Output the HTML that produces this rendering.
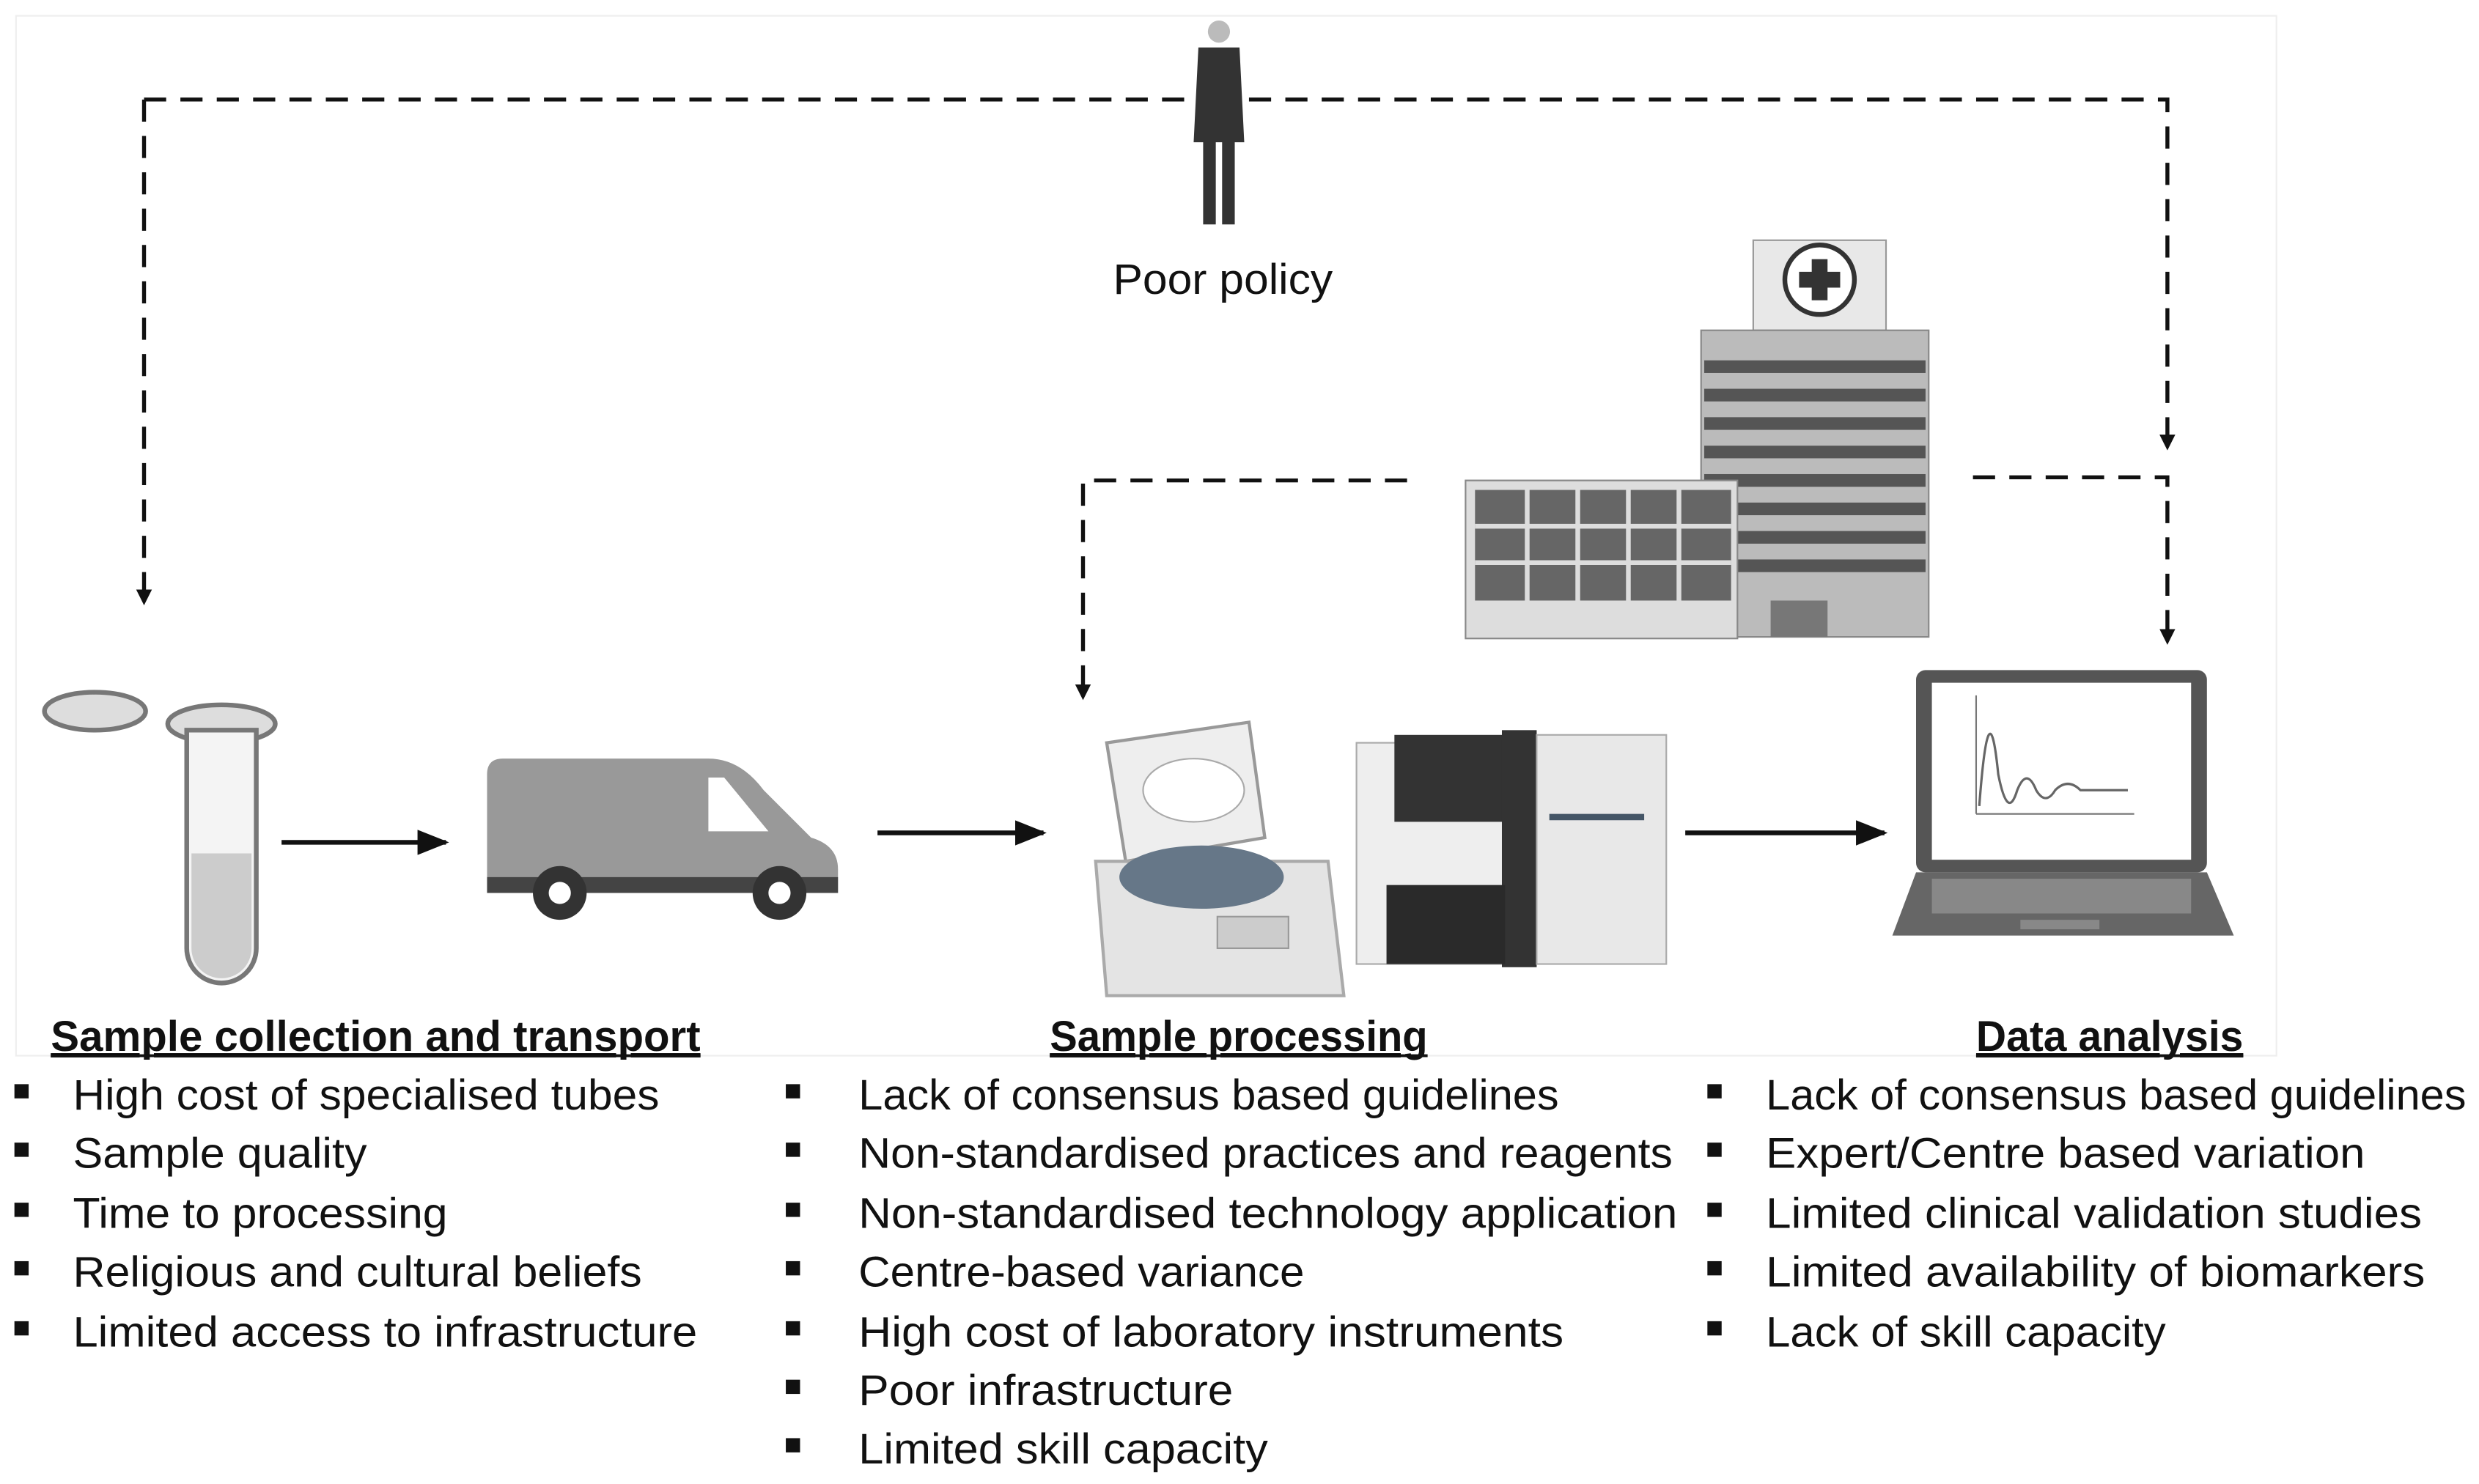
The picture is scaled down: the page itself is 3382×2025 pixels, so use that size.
<!DOCTYPE html>
<html><head><meta charset="utf-8"><style>
html,body{margin:0;padding:0;background:#fff;}
svg{display:block;}
text{font-family:"Liberation Sans",sans-serif;fill:#111;}
</style></head><body>
<svg width="3382" height="2025" viewBox="0 0 1568 939" xmlns="http://www.w3.org/2000/svg">
<defs>
<marker id="ah" markerWidth="10" markerHeight="10" refX="5" refY="5" orient="auto" markerUnits="userSpaceOnUse" viewBox="0 0 10 10"><path d="M0,0 L10,5 L0,10 z" fill="#111"/></marker>
<marker id="as" markerWidth="20" markerHeight="16" refX="18" refY="8" orient="auto" markerUnits="userSpaceOnUse"><path d="M0,0 L20,8 L0,16 z" fill="#111"/></marker>
</defs>
<rect x="10" y="10" width="1430" height="658" fill="none" stroke="#eee" stroke-width="1"/>
<g stroke="#111" stroke-width="2.5" fill="none" stroke-dasharray="14,9">
<path d="M91,63 H750"/><path d="M790,63 H1371 V280" marker-end="url(#ah)"/>
<path d="M91,63 V378" marker-end="url(#ah)"/>
<path d="M890,304 H685 V438" marker-end="url(#ah)"/>
<path d="M1248,302 H1371 V403" marker-end="url(#ah)"/>
</g>
<g stroke="#111" stroke-width="3">
<line x1="178" y1="533" x2="282" y2="533" marker-end="url(#as)"/>
<line x1="555" y1="527" x2="660" y2="527" marker-end="url(#as)"/>
<line x1="1066" y1="527" x2="1192" y2="527" marker-end="url(#as)"/>
</g>
<!-- person -->
<g fill="#333"><circle cx="771" cy="20" r="7" fill="#bbb"/><path d="M758,30 h26 l3,60 h-6 v52 h-8 v-52 h-4 v52 h-8 v-52 h-6 z"/></g>
<text x="704" y="186" font-size="27" textLength="139" lengthAdjust="spacingAndGlyphs">Poor policy</text>
<!-- hospital -->
<g>
<rect x="1109" y="152" width="84" height="57" fill="#e8e8e8" stroke="#999"/>
<circle cx="1151" cy="177" r="22" fill="#fff" stroke="#333" stroke-width="3"/>
<path d="M1146,164 h10 v8 h8 v10 h-8 v8 h-10 v-8 h-8 v-10 h8 z" fill="#333"/>
<rect x="1076" y="209" width="144" height="194" fill="#bbb" stroke="#888"/>
<g fill="#555"><rect x="1078" y="228" width="140" height="8"/><rect x="1078" y="246" width="140" height="8"/><rect x="1078" y="264" width="140" height="8"/><rect x="1078" y="282" width="140" height="8"/><rect x="1078" y="300" width="140" height="8"/><rect x="1078" y="318" width="140" height="8"/><rect x="1078" y="336" width="140" height="8"/><rect x="1078" y="354" width="140" height="8"/></g>
<rect x="1120" y="380" width="36" height="23" fill="#777"/>
<rect x="927" y="304" width="172" height="100" fill="#ddd" stroke="#888"/>
<rect x="933" y="310" width="162" height="70" fill="#666"/>
<g stroke="#ddd" stroke-width="3"><line x1="966" y1="310" x2="966" y2="380"/><line x1="998" y1="310" x2="998" y2="380"/><line x1="1030" y1="310" x2="1030" y2="380"/><line x1="1062" y1="310" x2="1062" y2="380"/><line x1="933" y1="333" x2="1095" y2="333"/><line x1="933" y1="356" x2="1095" y2="356"/></g>
</g>
<!-- tube -->
<g fill="#ddd" stroke="#777" stroke-width="3">
<ellipse cx="60" cy="450" rx="32" ry="12"/><ellipse cx="140" cy="458" rx="34" ry="12"/>
<path d="M118,462 V600 a22,22 0 0 0 44,0 V462 z" fill="#f4f4f4"/>
<path d="M121,540 H159 V600 a19,19 0 0 1 -38,0 z" fill="#ccc" stroke="none"/>
</g>
<!-- van -->
<g>
<path d="M308,490 q0,-10 10,-10 h130 q20,0 35,20 l30,30 q17,5 17,20 v15 h-222 z" fill="#999"/>
<path d="M448,492 h10 l28,34 h-38 z" fill="#fff"/>
<rect x="308" y="555" width="222" height="10" fill="#444"/>
<circle cx="354" cy="565" r="17" fill="#333"/><circle cx="354" cy="565" r="7" fill="#fff"/>
<circle cx="493" cy="565" r="17" fill="#333"/><circle cx="493" cy="565" r="7" fill="#fff"/>
</g>
<!-- centrifuge -->
<g>
<path d="M700,470 L790,457 L800,530 L712,545 z" fill="#eee" stroke="#999" stroke-width="2"/>
<ellipse cx="755" cy="500" rx="32" ry="20" fill="#fff" stroke="#aaa"/>
<path d="M693,545 H840 L850,630 H700 z" fill="#e4e4e4" stroke="#aaa" stroke-width="2"/>
<ellipse cx="760" cy="555" rx="52" ry="20" fill="#678" />
<rect x="770" y="580" width="45" height="20" fill="#ccc" stroke="#999"/>
</g>
<!-- sequencer -->
<g>
<rect x="858" y="470" width="95" height="140" fill="#eee" stroke="#aaa"/>
<rect x="882" y="465" width="70" height="55" fill="#333"/>
<rect x="950" y="462" width="22" height="150" fill="#333"/>
<rect x="972" y="465" width="82" height="145" fill="#e8e8e8" stroke="#aaa"/>
<rect x="877" y="560" width="75" height="50" fill="#2a2a2a"/>
<rect x="980" y="515" width="60" height="4" fill="#456"/>
</g>
<!-- laptop -->
<g>
<rect x="1212" y="424" width="184" height="128" rx="6" fill="#555"/>
<rect x="1222" y="432" width="164" height="112" fill="#fff"/>
<path d="M1250,515 V440 M1250,515 H1350" stroke="#777" fill="none"/>
<path d="M1252,510 q6,-80 12,-20 q6,30 12,10 q6,-15 12,0 q6,10 12,0 q8,-8 16,0 h30" stroke="#666" fill="none" stroke-width="1.5"/>
<path d="M1212,552 H1396 L1413,592 H1197 z" fill="#666"/>
<rect x="1222" y="556" width="164" height="22" fill="#888"/>
<rect x="1278" y="582" width="50" height="6" fill="#888"/>
</g>
<!-- titles -->
<g font-size="27" font-weight="bold" text-decoration="underline" lengthAdjust="spacingAndGlyphs">
<text x="32" y="665" textLength="411" lengthAdjust="spacingAndGlyphs">Sample collection and transport</text>
<text x="664" y="665" textLength="239" lengthAdjust="spacingAndGlyphs">Sample processing</text>
<text x="1250" y="665" textLength="169" lengthAdjust="spacingAndGlyphs">Data analysis</text>
</g>
<g stroke="#111" stroke-width="1.8">
<line x1="32" y1="668" x2="443" y2="668"/><line x1="664" y1="668" x2="903" y2="668"/><line x1="1250" y1="668" x2="1419" y2="668"/>
</g>
<g fill="#111">
<rect x="9" y="686" width="9" height="9"/><rect x="9" y="723" width="9" height="9"/><rect x="9" y="761" width="9" height="9"/><rect x="9" y="798" width="9" height="9"/><rect x="9" y="836" width="9" height="9"/>
<rect x="497" y="686" width="9" height="9"/><rect x="497" y="723" width="9" height="9"/><rect x="497" y="761" width="9" height="9"/><rect x="497" y="798" width="9" height="9"/><rect x="497" y="836" width="9" height="9"/><rect x="497" y="873" width="9" height="9"/><rect x="497" y="910" width="9" height="9"/>
<rect x="1080" y="686" width="9" height="9"/><rect x="1080" y="723" width="9" height="9"/><rect x="1080" y="761" width="9" height="9"/><rect x="1080" y="798" width="9" height="9"/><rect x="1080" y="836" width="9" height="9"/>
</g>
<g font-size="27">
<text x="46" y="702" textLength="371" lengthAdjust="spacingAndGlyphs">High cost of specialised tubes</text>
<text x="46" y="739" textLength="186" lengthAdjust="spacingAndGlyphs">Sample quality</text>
<text x="46" y="777" textLength="237" lengthAdjust="spacingAndGlyphs">Time to processing</text>
<text x="46" y="814" textLength="360" lengthAdjust="spacingAndGlyphs">Religious and cultural beliefs</text>
<text x="46" y="852" textLength="395" lengthAdjust="spacingAndGlyphs">Limited access to infrastructure</text>
<text x="543" y="702" textLength="443" lengthAdjust="spacingAndGlyphs">Lack of consensus based guidelines</text>
<text x="543" y="739" textLength="515" lengthAdjust="spacingAndGlyphs">Non-standardised practices and reagents</text>
<text x="543" y="777" textLength="518" lengthAdjust="spacingAndGlyphs">Non-standardised technology application</text>
<text x="543" y="814" textLength="282" lengthAdjust="spacingAndGlyphs">Centre-based variance</text>
<text x="543" y="852" textLength="446" lengthAdjust="spacingAndGlyphs">High cost of laboratory instruments</text>
<text x="543" y="889" textLength="237" lengthAdjust="spacingAndGlyphs">Poor infrastructure</text>
<text x="543" y="926" textLength="259" lengthAdjust="spacingAndGlyphs">Limited skill capacity</text>
<text x="1117" y="702" textLength="443" lengthAdjust="spacingAndGlyphs">Lack of consensus based guidelines</text>
<text x="1117" y="739" textLength="379" lengthAdjust="spacingAndGlyphs">Expert/Centre based variation</text>
<text x="1117" y="777" textLength="415" lengthAdjust="spacingAndGlyphs">Limited clinical validation studies</text>
<text x="1117" y="814" textLength="417" lengthAdjust="spacingAndGlyphs">Limited availability of biomarkers</text>
<text x="1117" y="852" textLength="253" lengthAdjust="spacingAndGlyphs">Lack of skill capacity</text>
</g>
</svg>
</body></html>
